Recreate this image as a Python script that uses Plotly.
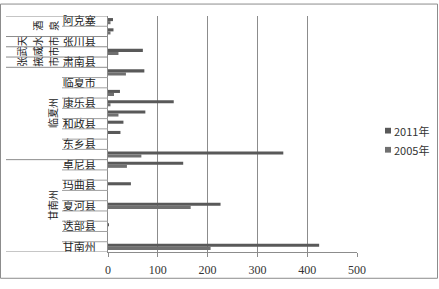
import plotly.graph_objects as go

# ---- data ----
slot_labels = ["阿克塞", "", "张川县", "", "肃南县", "", "临夏市", "", "康乐县", "",
               "和政县", "", "东乡县", "", "卓尼县", "", "玛曲县", "", "夏河县", "",
               "迭部县", "", "甘南州"]
v2011 = [10, 11, None, 70, None, 73, None, 24, 132, 75, 31, 25, None, 352, 151,
         None, 46, None, 226, None, 2, None, 424]
v2005 = [5, 5, None, 21, None, 36, None, 12, 5, 21, None, None, None, 67, 38,
         None, None, None, 166, None, None, None, 206]
# group label, first slot, last slot (1-based)
group_names = ["酒泉", "天水市", "武威市", "张掖市", "临夏州", "甘南州"]
group_first = [1, 3, 4, 5, 6, 15]
group_last = [2, 3, 4, 5, 14, 23]
x_ticks = [0, 100, 200, 300, 400, 500]
series_names = ["2011年", "2005年"]

# ---- layout geometry (pixels) ----
WIDTH, HEIGHT = 439, 289
L, T = 108, 13
PW, PH = 249, 247
R = WIDTH - L - PW
B = HEIGHT - T - PH


def px_x(p):
    return (p - L) / PW


def px_y(p):
    return (T + PH - p) / PH


slots = list(range(1, len(slot_labels) + 1))
col_2011 = "#595959"
col_2005 = "#707070"
grid_col = "#8c8c8c"
line_col = "#a0a0a0"

fig = go.Figure()
fig.add_trace(go.Bar(y=slots, x=v2011, orientation="h", name=series_names[0],
                     marker=dict(color=col_2011, line=dict(width=0))))
fig.add_trace(go.Bar(y=slots, x=v2005, orientation="h", name=series_names[1],
                     marker=dict(color=col_2005, line=dict(width=0))))

tickvals = [s for s, lab in zip(slots, slot_labels) if lab]
ticktext = [lab for lab in slot_labels if lab]

shapes = []
# outer chart border
shapes.append(dict(type="rect", xref="paper", yref="paper",
                   x0=px_x(0.5), x1=px_x(437.5), y0=px_y(287.5), y1=px_y(0.5),
                   line=dict(color="#8c8c8c", width=1)))
# category boundary lines
group_bounds = set()
for f, l in zip(group_first, group_last):
    group_bounds.add(f - 0.5)
    group_bounds.add(l + 0.5)
for k in range(len(slot_labels) + 1):
    yb = k + 0.5
    x_start = 6 if yb in group_bounds else 62
    shapes.append(dict(type="line", xref="paper", yref="y",
                       x0=px_x(x_start), x1=px_x(L), y0=yb, y1=yb,
                       line=dict(color=line_col if x_start == 62 else grid_col, width=1)))

annotations = []
for name, f, l in zip(group_names, group_first, group_last):
    span = l - f + 1
    yc = (f + l) / 2
    if span >= 3:
        annotations.append(dict(text=name, xref="paper", yref="y", x=px_x(43), y=yc,
                                textangle=-90, showarrow=False,
                                font=dict(family="Noto Sans CJK SC", size=10, color="#222")))
    else:
        n = len(name)
        for i, ch in enumerate(name):
            cx = 44 - 16 * (n - 1 - i)
            annotations.append(dict(text=ch, xref="paper", yref="y", x=px_x(cx), y=yc,
                                    textangle=-90, showarrow=False,
                                    font=dict(family="Noto Sans CJK SC", size=10, color="#222")))

# legend (drawn manually to match the small square markers)
for i, (nm, col) in enumerate(zip(series_names, [col_2011, col_2005])):
    yc = 133 + 20 * i
    shapes.append(dict(type="rect", xref="paper", yref="paper",
                       x0=px_x(385), x1=px_x(391), y0=px_y(yc + 3), y1=px_y(yc - 3),
                       fillcolor=col, line=dict(width=0)))
    annotations.append(dict(text=nm, xref="paper", yref="paper", x=px_x(392), y=px_y(yc),
                            xanchor="left", yanchor="middle", showarrow=False,
                            font=dict(family="Noto Sans CJK SC", size=11, color="#333")))

fig.update_layout(
    width=WIDTH, height=HEIGHT,
    margin=dict(l=L, r=R, t=T, b=B, pad=0),
    paper_bgcolor="white", plot_bgcolor="white",
    barmode="group", bargap=0.4, bargroupgap=0,
    showlegend=False,
    shapes=shapes, annotations=annotations,
    xaxis=dict(range=[0, 500], tickvals=x_ticks, showgrid=True, gridcolor=grid_col,
               gridwidth=1, zeroline=False, showline=True, linecolor=grid_col,
               ticks="outside", ticklen=4, tickcolor=grid_col, ticklabelstandoff=3,
               tickfont=dict(family="Liberation Serif", size=12, color="#333"),
               fixedrange=True),
    yaxis=dict(range=[23.5, 0.5], tickvals=tickvals, ticktext=ticktext,
               showgrid=False, zeroline=False, showline=True, linecolor=grid_col,
               ticks="", ticklabelstandoff=9,
               tickfont=dict(family="Noto Sans CJK SC", size=11, color="#222"),
               fixedrange=True),
)

fig.write_html("out.html")
